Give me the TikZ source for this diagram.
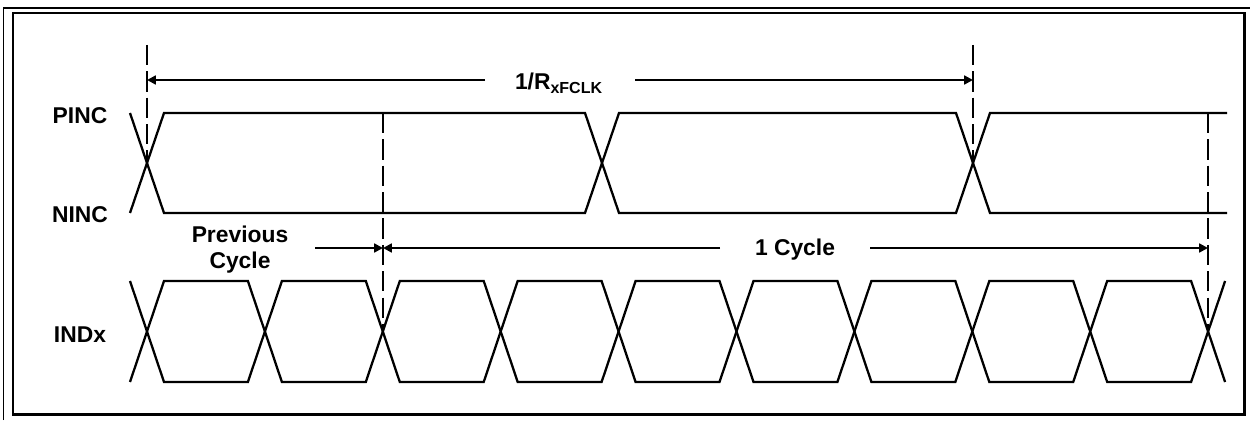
\documentclass[tikz,border=0pt]{standalone}
\usepackage{fontspec}
\setmainfont{Liberation Sans}
\usetikzlibrary{positioning, arrows.meta}
\tikzset{sig/.style={line width=1.3pt, line join=miter},
         guide/.style={line width=1.3pt, dash pattern=on 11.5pt off 3.5pt},
         dim/.style={line width=1.3pt, -{Triangle[length=5pt,width=5pt]}},
         lbl/.style={font=\fontsize{13}{14.7}\selectfont\bfseries, inner sep=1pt, align=center}}

\begin{document}
\begin{tikzpicture}

        \useasboundingbox (0,0) rectangle (25,8.4);

        % Frame
        \draw[line width=1pt] (0.07,0) -- (0.07,8.24) -- (25,8.24);
        \draw[line width=1.6pt] (0.26,0.11) rectangle (24.89,8.14);

        % Signal names
        \node[lbl] (pinc) at (1.6,6.08) {PINC};
        \node[lbl] (ninc) at (1.6,4.1) {NINC};
        \node[lbl] (indx) at (1.6,1.7) {INDx};

        % PINC / NINC pair
        \draw[sig] (2.60,6.14) -- (3.28,4.14) -- (11.70,4.14) -- (12.38,6.14) -- (19.12,6.14) -- (19.80,4.14) -- (24.54,4.14);
        \draw[sig] (2.60,4.14) -- (3.28,6.14) -- (11.70,6.14) -- (12.38,4.14) -- (19.12,4.14) -- (19.80,6.14) -- (24.54,6.14);

        % INDx
        \draw[sig] (2.60,2.78) \foreach \i in {1,...,4} { -- ++(0.68,-2.02) -- ++(1.678,0) -- ++(0.68,2.02) -- ++(1.678,0) }
            -- ++(0.68,-2.02) -- ++(1.678,0) -- ++(0.68,2.02);
        \draw[sig] (2.60,0.76) \foreach \i in {1,...,4} { -- ++(0.68,2.02) -- ++(1.678,0) -- ++(0.68,-2.02) -- ++(1.678,0) }
            -- ++(0.68,2.02) -- ++(1.678,0) -- ++(0.68,-2.02);

        % Dashed guides
        \draw[guide] (2.94,7.5) -- (2.94,5.14);
        \draw[guide] (19.46,7.5) -- (19.46,5.14);
        \draw[guide] (7.66,6.14) -- (7.66,1.77);
        \draw[guide] (24.16,6.14) -- (24.16,1.77);

        % Period arrow
        \node[lbl, anchor=base] (rlabel) at (11.18,6.6) {1/R\textsubscript{xFCLK}};
        \coordinate (r0) at (2.94,6.8);
        \coordinate (r1) at (19.46,6.8);
        \coordinate (ra) at (9.70,6.8);
        \coordinate (rb) at (12.70,6.8);
        \draw[dim] (ra) -- (r0);
        \draw[dim] (rb) -- (r1);

        % Cycle arrows
        \node[lbl, anchor=base] (cyclabel) at (15.9,3.28) {1 Cycle};
        \node[lbl] (prevlabel) at (4.8,3.4) {Previous\\Cycle};
        \coordinate (c0) at (7.66,3.44);
        \coordinate (c1) at (24.16,3.44);
        \coordinate (ca) at (14.40,3.44);
        \coordinate (cb) at (17.40,3.44);
        \coordinate (pa) at (6.30,3.44);
        \draw[dim] (ca) -- (c0);
        \draw[dim] (cb) -- (c1);
        \draw[dim] (pa) -- (c0);

\end{tikzpicture}
\end{document}
